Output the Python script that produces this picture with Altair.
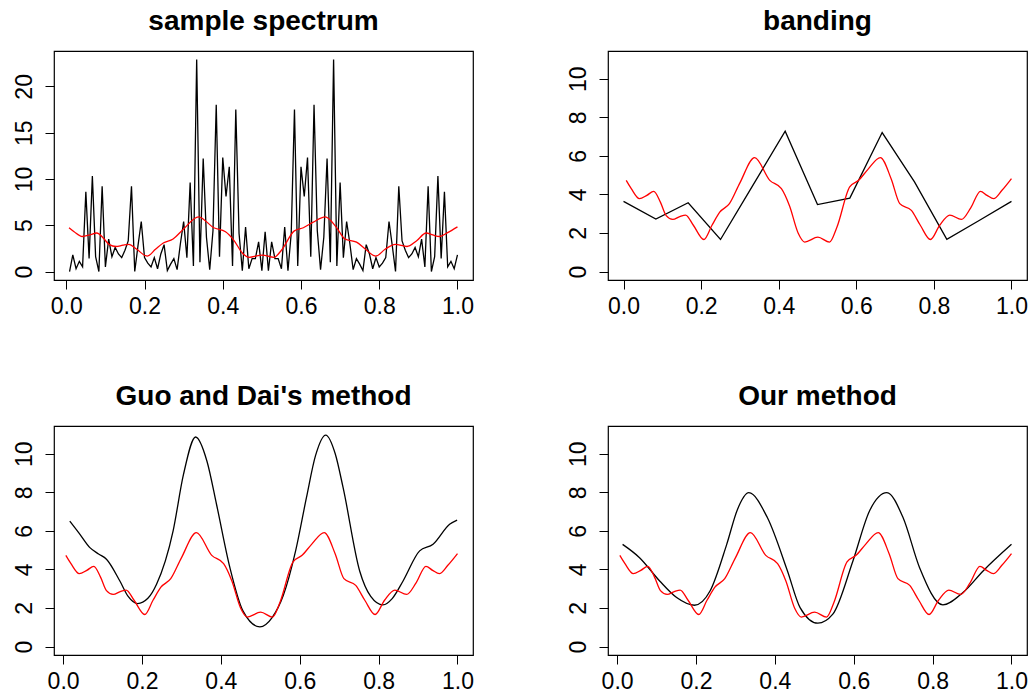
import altair as alt
import pandas as pd

# ---- data ----
# sample spectrum ordinates at frequencies j/120, j = 1..120
spec_vals = [0.0, 1.8, 0.3, 1.1, 0.5, 8.6, 1.4, 10.3, 1.6, 0.0,
             9.2, 0.5, 3.5, 1.6, 2.6, 1.9, 1.5, 2.3, 3.3, 9.2,
             0.0, 2.8, 5.4, 1.5, 0.9, 0.5, 1.5, 0.3, 1.9, 2.9,
             0.1, 0.8, 1.4, 0.2, 3.0, 5.4, 1.5, 9.6, 0.6, 22.9,
             1.0, 12.2, 3.7, 0.2, 4.4, 18.0, 1.6, 12.3, 8.1, 11.3,
             0.6, 17.5, 4.1, 0.1, 4.8, 0.3, 1.4, 1.4, 3.2, 0.1,
             4.3, 0.1, 3.2, 1.4, 1.4, 0.3, 4.8, 0.1, 4.1, 17.5,
             0.6, 11.3, 8.1, 12.3, 1.6, 18.0, 4.4, 0.2, 3.7, 12.2,
             1.0, 22.9, 0.6, 9.6, 1.5, 5.4, 3.0, 0.2, 1.4, 0.8,
             0.1, 2.9, 1.9, 0.3, 1.5, 0.5, 0.9, 1.5, 5.4, 2.8,
             0.0, 9.2, 3.3, 2.3, 1.5, 1.9, 2.6, 1.6, 3.5, 0.5,
             9.2, 0.0, 1.6, 10.3, 1.4, 8.6, 0.5, 1.1, 0.3, 1.8]
spec_freq = [j / 120 for j in range(1, 121)]

# true spectrum (red)
true_x = [0.007, 0.02, 0.041, 0.06, 0.078, 0.095, 0.110, 0.127, 0.145, 0.160,
          0.180, 0.207, 0.228, 0.248, 0.273, 0.30, 0.338, 0.377, 0.407, 0.428,
          0.45, 0.467, 0.501, 0.531, 0.55, 0.583, 0.606, 0.630, 0.662, 0.69,
          0.712, 0.742, 0.765, 0.791, 0.815, 0.841, 0.871, 0.895, 0.920, 0.937,
          0.954, 0.975, 1.0]
true_y = [4.73, 4.3, 3.78, 3.95, 4.16, 3.6, 2.9, 2.70, 2.85, 2.93,
          2.4, 1.66, 2.4, 3.08, 3.52, 4.6, 5.91, 4.73, 4.30, 3.4,
          2.0, 1.53, 1.78, 1.53, 2.3, 4.39, 4.73, 5.3, 5.91, 4.8,
          3.52, 3.17, 2.4, 1.66, 2.4, 2.93, 2.70, 3.3, 4.16, 3.95,
          3.78, 4.2, 4.82]

# banding estimate
band_x = [0, 1/12, 2/12, 3/12, 4/12, 5/12, 6/12, 7/12, 8/12, 9/12, 10/12, 11/12, 1]
band_y = [3.64, 2.72, 3.57, 1.66, 4.47, 7.28, 3.47, 3.81, 7.21, 4.65, 1.67, 2.65, 3.64]

# Guo and Dai's method
guo_x = [0.017, 0.04, 0.068, 0.090, 0.110, 0.144, 0.165, 0.189, 0.215, 0.237,
         0.279, 0.305, 0.336, 0.365, 0.389, 0.423, 0.456, 0.499, 0.53, 0.558,
         0.590, 0.617, 0.640, 0.666, 0.690, 0.71, 0.752, 0.78, 0.811, 0.835,
         0.862, 0.904, 0.938, 0.98, 0.999]
guo_y = [6.51, 5.9, 5.13, 4.8, 4.53, 3.40, 2.6, 2.23, 2.5, 3.23,
         6.0, 8.9, 10.87, 9.6, 7.38, 4.09, 1.85, 1.02, 1.5, 2.63,
         5.0, 7.72, 9.9, 10.97, 10.0, 8.24, 3.92, 2.6, 2.16, 2.5,
         3.40, 4.96, 5.30, 6.34, 6.56]

# Our method
our_x = [0.014, 0.057, 0.108, 0.151, 0.196, 0.236, 0.278, 0.305, 0.334, 0.381,
         0.432, 0.464, 0.509, 0.547, 0.598, 0.640, 0.684, 0.725, 0.767, 0.826,
         0.877, 0.928, 1.0]
our_y = [5.30, 4.61, 3.4, 2.54, 2.14, 2.89, 5.30, 7.1, 7.98, 6.69,
         3.92, 2.02, 1.21, 1.68, 4.44, 7.03, 7.98, 6.69, 4.09, 2.16,
         2.80, 3.92, 5.30]

x_ticks = [0, 0.2, 0.4, 0.6, 0.8, 1.0]
y_ticks_1 = [0, 5, 10, 15, 20]
y_ticks_2 = [0, 2, 4, 6, 8, 10]

titles = ["sample spectrum", "banding", "Guo and Dai's method", "Our method"]

FONT = "Liberation Sans"
W, H = 419, 229
TICK_FS = 23
TITLE_FS = 28


def panel(black_df, red_df, xdom, ydom, yticks, title, black_interp):
    xs = alt.Scale(domain=xdom, nice=False, zero=False)
    ys = alt.Scale(domain=ydom, nice=False, zero=False)
    xax = alt.Axis(values=x_ticks, format=".1f", title=None, grid=False, domain=False,
                   tickColor="black", tickSize=9, tickWidth=1, labelColor="black",
                   labelFont=FONT, labelFontSize=TICK_FS, labelPadding=6,
                   labelFlush=False, labelOverlap=False)
    yax = alt.Axis(values=yticks, format="d", title=None, grid=False, domain=False,
                   tickColor="black", tickSize=9, tickWidth=1, labelColor="black",
                   labelFont=FONT, labelFontSize=TICK_FS, labelPadding=9,
                   labelAngle=270, labelAlign="center", labelBaseline="bottom",
                   labelFlush=False, labelOverlap=False)
    black = alt.Chart(black_df).mark_line(
        color="black", strokeWidth=1.3, interpolate=black_interp, clip=True
    ).encode(x=alt.X("x:Q", scale=xs, axis=xax), y=alt.Y("y:Q", scale=ys, axis=yax))
    red = alt.Chart(red_df).mark_line(
        color="#FF0000", strokeWidth=1.3, interpolate="monotone", clip=True
    ).encode(x=alt.X("x:Q", scale=xs), y=alt.Y("y:Q", scale=ys))
    return alt.layer(black, red).properties(
        width=W, height=H,
        title=alt.TitleParams(title, font=FONT, fontSize=TITLE_FS, fontWeight="bold",
                              color="black", anchor="middle", offset=15),
    )


red_df = pd.DataFrame({"x": true_x, "y": true_y})
p1 = panel(pd.DataFrame({"x": spec_freq, "y": spec_vals}), red_df,
           [-0.0314, 1.0397], [-0.916, 23.816], y_ticks_1, titles[0], "linear")
p2 = panel(pd.DataFrame({"x": band_x, "y": band_y}), red_df,
           [-0.04, 1.04], [-0.44, 11.44], y_ticks_2, titles[1], "linear")
p3 = panel(pd.DataFrame({"x": guo_x, "y": guo_y}), red_df,
           [-0.023, 1.0393], [-0.44, 11.44], y_ticks_2, titles[2], "monotone")
p4 = panel(pd.DataFrame({"x": our_x, "y": our_y}), red_df,
           [-0.023, 1.0393], [-0.44, 11.44], y_ticks_2, titles[3], "monotone")

chart = alt.concat(p1, p2, p3, p4, columns=2,
                   spacing={"row": 146, "column": 135}, bounds="flush") \
    .properties(padding={"left": 12, "top": 7, "right": 0, "bottom": 0},
                background="white") \
    .configure_view(stroke="black", strokeWidth=1.2)

chart.save("out.html", embed_options={"renderer": "svg", "actions": False})
